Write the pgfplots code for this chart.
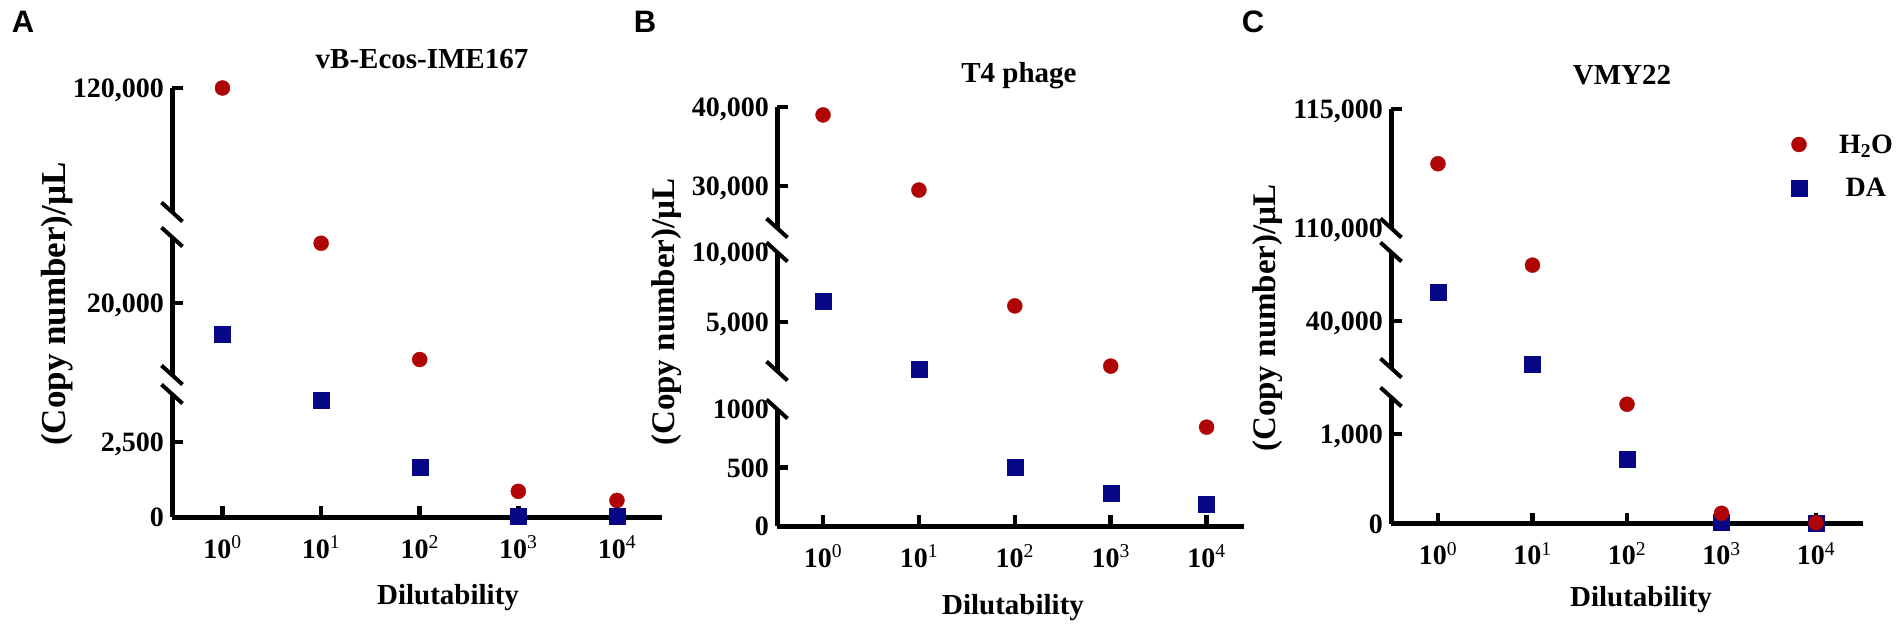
\documentclass[border=0pt]{standalone}
\usepackage{fontspec}
\setmainfont{Liberation Serif}
\newfontfamily\arialfont{Liberation Sans}
\usepackage{pgfplots}
\pgfplotsset{compat=1.18}
\usepackage{pgfplotstable}

\definecolor{dotred}{RGB}{175,5,5}
\definecolor{sqblue}{RGB}{8,8,135}

\newcommand{\tl}{\fontsize{28}{32}\selectfont\bfseries}
\newcommand{\brkbot}{\draw[line width=4pt] (axis description cs:0,0) ++(-10.5pt,9.5pt) -- ++(21pt,-19pt);}
\newcommand{\brktop}{\draw[line width=4pt] (axis description cs:0,1) ++(-10.5pt,9.5pt) -- ++(21pt,-19pt);}

\pgfplotsset{
  seg/.style={
    scale only axis, clip=false,
    scaled y ticks=false, scaled x ticks=false,
    axis y line*=left,
    axis line style={line width=5pt,-},
    tick align=inside,
    major tick length=11pt,
    major tick style={line width=4.5pt,black},
    tick label style={font=\tl},
    yticklabel style={anchor=base east,inner sep=0pt,xshift=-8pt,yshift=-9.5pt},
    xticklabel style={anchor=base,inner sep=0pt,yshift=-41pt},
    extra y tick style={tick style={draw=none}},
  },
  upper/.style={seg, axis x line=none, xtick=\empty},
  lower/.style={seg, axis x line*=bottom, xtick={0,1,2,3,4},
    xticklabels={10\textsuperscript{\mdseries 0},10\textsuperscript{\mdseries 1},10\textsuperscript{\mdseries 2},10\textsuperscript{\mdseries 3},10\textsuperscript{\mdseries 4}}},
  redpts/.style={only marks, mark=*, mark size=7.5pt, color=dotred},
  bluepts/.style={only marks, mark=square*, mark size=8pt, color=sqblue},
}

% Panel A
\pgfplotstableread{
x y
0 120000
1 28300
2 12150
3 855
4 553
}\Ared
\pgfplotstableread{
x y
0 15700
1 3880
2 1670
3 15
4 15
}\Ablue
% Panel B
\pgfplotstableread{
x y
0 39000
1 29500
2 6150
3 1850
4 845
}\Bred
\pgfplotstableread{
x y
0 6450
1 1650
2 500
3 283
4 190
}\Bblue
% Panel C
\pgfplotstableread{
x y
0 112700
1 63800
2 1332
3 114
4 8
}\Cred
\pgfplotstableread{
x y
0 52300
1 21700
2 718
3 15
4 5
}\Cblue

\begin{document}
\begin{tikzpicture}
\path[use as bounding box] (0pt,0pt) rectangle (1901pt,630pt);

% ---------------- Panel A ----------------
\begin{axis}[upper, at={(172pt,418pt)}, anchor=south west, width=490pt, height=124pt,
  xmin=-0.512, xmax=4.457, ymin=100000, ymax=120000,
  ytick={120000}, yticklabels={120{,}000}]
\addplot[redpts, restrict y to domain=100000:120000] table {\Ared};
\brkbot
\end{axis}
\begin{axis}[upper, at={(172pt,255pt)}, anchor=south west, width=490pt, height=138pt,
  xmin=-0.512, xmax=4.457, ymin=10000, ymax=29170,
  ytick={20000}, yticklabels={20{,}000}]
\addplot[bluepts, restrict y to domain=10000:29170] table {\Ablue};
\addplot[redpts, restrict y to domain=10000:29170] table {\Ared};
\brktop \brkbot
\end{axis}
\begin{axis}[lower, at={(172pt,113pt)}, anchor=south west, width=490pt, height=123pt,
  xmin=-0.512, xmax=4.457, ymin=0, ymax=4100,
  ytick={0,2500}, yticklabels={0,2{,}500}]
\addplot[redpts, restrict y to domain=0:4100] table {\Ared};
\addplot[bluepts, restrict y to domain=0:4100] table {\Ablue};
\brktop
\end{axis}

% ---------------- Panel B ----------------
\begin{axis}[upper, at={(777pt,402pt)}, anchor=south west, width=467pt, height=121pt,
  xmin=-0.48, xmax=4.39, ymin=24700, ymax=40000,
  ytick={30000,40000}, yticklabels={30{,}000,40{,}000}]
\addplot[redpts, restrict y to domain=24700:40000] table {\Bred};
\brkbot
\end{axis}
\begin{axis}[upper, at={(777pt,259pt)}, anchor=south west, width=467pt, height=119pt,
  xmin=-0.48, xmax=4.39, ymin=1500, ymax=10000,
  ytick={5000}, yticklabels={5{,}000},
  extra y ticks={10000}, extra y tick labels={10{,}000}]
\addplot[bluepts, restrict y to domain=1500:10000] table {\Bblue};
\addplot[redpts, restrict y to domain=1500:10000] table {\Bred};
\brktop \brkbot
\end{axis}
\begin{axis}[lower, at={(777pt,104pt)}, anchor=south west, width=467pt, height=117pt,
  xmin=-0.48, xmax=4.39, ymin=0, ymax=1000,
  ytick={0,500}, yticklabels={0,500},
  extra y ticks={1000}, extra y tick labels={1000}]
\addplot[redpts, restrict y to domain=0:1000] table {\Bred};
\addplot[bluepts, restrict y to domain=0:1000] table {\Bblue};
\brktop
\end{axis}

% ---------------- Panel C ----------------
\begin{axis}[upper, at={(1391pt,402pt)}, anchor=south west, width=472pt, height=119pt,
  xmin=-0.497, xmax=4.497, ymin=110000, ymax=115000,
  ytick={115000}, yticklabels={115{,}000},
  extra y ticks={110000}, extra y tick labels={110{,}000},
  legend style={draw=none, fill=none, at={(axis description cs:0.847,0.517)}, anchor=west,
    font=\tl, row sep=24pt, column sep=32pt, inner sep=0pt, nodes={inner sep=0pt}},
  legend image code/.code={\draw[#1] plot coordinates {(0pt,0pt)};}]
\addlegendimage{redpts}\addlegendentry{H\textsubscript{2}O}
\addlegendimage{bluepts}\addlegendentry{DA}
\addplot[redpts, restrict y to domain=110000:115000] table {\Cred};
\brkbot
\end{axis}
\begin{axis}[upper, at={(1391pt,262pt)}, anchor=south west, width=472pt, height=116pt,
  xmin=-0.497, xmax=4.497, ymin=20000, ymax=69400,
  ytick={40000}, yticklabels={40{,}000}]
\addplot[bluepts, restrict y to domain=20000:69400] table {\Cblue};
\addplot[redpts, restrict y to domain=20000:69400] table {\Cred};
\brktop \brkbot
\end{axis}
\begin{axis}[lower, at={(1391pt,106.5pt)}, anchor=south west, width=472pt, height=126.5pt,
  xmin=-0.497, xmax=4.497, ymin=0, ymax=1413,
  ytick={0,1000}, yticklabels={0,1{,}000}]
\addplot[bluepts, restrict y to domain=0:1413] table {\Cblue};
\addplot[redpts, restrict y to domain=0:1413] table {\Cred};
\brktop
\end{axis}

% ---------------- Texts ----------------
\node[font=\arialfont\bfseries\fontsize{31}{36}\selectfont] at (23pt,608pt) {A};
\node[font=\arialfont\bfseries\fontsize{31}{36}\selectfont] at (645pt,608pt) {B};
\node[font=\arialfont\bfseries\fontsize{31}{36}\selectfont] at (1253pt,608pt) {C};

\node[anchor=base, font=\fontsize{29}{34}\selectfont\bfseries] at (422pt,561pt) {vB-Ecos-IME167};
\node[anchor=base, font=\fontsize{29}{34}\selectfont\bfseries] at (1019pt,547pt) {T4 phage};
\node[anchor=base, font=\fontsize{29}{34}\selectfont\bfseries] at (1622pt,545pt) {VMY22};

\node[anchor=base, font=\fontsize{29}{34}\selectfont\bfseries] at (448pt,26pt) {Dilutability};
\node[anchor=base, font=\fontsize{29}{34}\selectfont\bfseries] at (1013pt,16pt) {Dilutability};
\node[anchor=base, font=\fontsize{29}{34}\selectfont\bfseries] at (1641pt,24pt) {Dilutability};

\node[rotate=90, font=\fontsize{35}{40}\selectfont\bfseries] at (57pt,326pt) {(Copy number)/µL};
\node[rotate=90, font=\fontsize{33}{38}\selectfont\bfseries] at (667pt,318pt) {(Copy number)/µL};
\node[rotate=90, font=\fontsize{33}{38}\selectfont\bfseries] at (1268pt,312pt) {(Copy number)/µL};
\end{tikzpicture}
\end{document}
